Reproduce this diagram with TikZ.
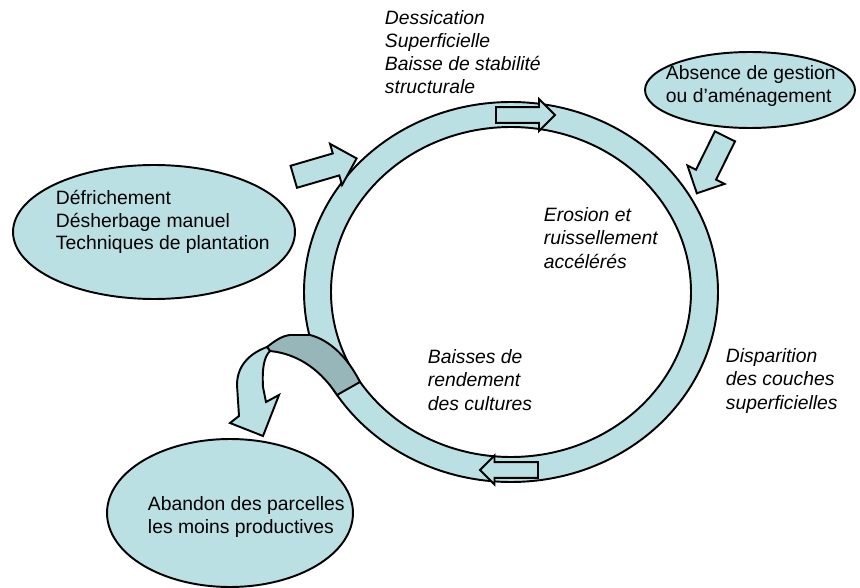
\documentclass[tikz,border=0pt]{standalone}
\usepackage{fontspec}
\setmainfont{Liberation Sans}
\usetikzlibrary{shapes.geometric,shapes.arrows}
\definecolor{bleuclair}{RGB}{187,224,227}
\definecolor{bleugris}{RGB}{150,182,185}
\begin{document}
\begin{tikzpicture}[x=0.02cm,y=-0.02cm,line width=1.1pt,
	bulle/.style={ellipse,draw,fill=bleuclair,inner sep=0pt},
	texte/.style={anchor=west,align=left,inner sep=0pt,font=\fontsize{11}{12.8}\selectfont},
	note/.style={anchor=west,align=left,inner sep=0pt,font=\fontsize{11}{13.2}\selectfont\itshape},
	fleche/.style={single arrow,draw,fill=bleuclair,inner xsep=0pt,single arrow tip angle=90}]
		\useasboundingbox (0,0) rectangle (860,588);
		% cycle
		\draw[fill=bleuclair,even odd rule] (511,292) ellipse [x radius=207,y radius=190]
		(511,292) ellipse [x radius=180,y radius=165];
		\draw[fill=bleugris] (267,347) .. controls (276,340) and (282,336) .. (290,335) -- (310,335)
		.. controls (330,340) and (348,358) .. (360,382) -- (337,395)
		.. controls (322,372) and (300,354) .. (270,351) -- cycle;
		\draw[fill=bleuclair] (267,347) .. controls (248,354) and (237,367) .. (237,385) -- (239,416)
		-- (230,423) -- (263,436) -- (279,395) -- (266,402) -- (263,387)
		.. controls (262,368) and (264,357) .. (270,351) -- cycle;
		% bulles
		\node[bulle,minimum width=5.64cm,minimum height=2.68cm] (defr) at (154,232) {};
		\node[texte] (defrtxt) at (55,222) {Défrichement\\Désherbage manuel\\Techniques de plantation};
		\node[bulle,minimum width=4.2cm,minimum height=1.52cm] (absence) at (750,90) {};
		\node[texte] (absencetxt) at (665,86) {Absence de gestion\\ou d’aménagement};
		\node[bulle,minimum width=4.92cm,minimum height=2.96cm] (abandon) at (230,513) {};
		\node[texte] (abandontxt) at (147,517) {Abandon des parcelles\\les moins productives};
		% fleches
		\node[fleche,inner ysep=0.21cm,single arrow head extend=0.2cm,minimum height=1.31cm,rotate=16.3] (flg) at (319.7,169.2) {};
		\node[fleche,inner ysep=0.14cm,single arrow head extend=0.16cm,minimum height=1.18cm] (flh) at (521.5,115) {};
		\node[fleche,inner ysep=0.14cm,single arrow head extend=0.13cm,minimum height=1.16cm,rotate=180] (flb) at (513,470) {};
		\node[fleche,inner ysep=0.205cm,single arrow head extend=0.19cm,minimum height=1.27cm,rotate=-116.3] (fld) at (713.4,159.8) {};
		% textes
		\node[note] (dessic) at (384,52) {Dessication\\Superficielle\\Baisse de stabilité\\structurale};
		\node[note] (erosion) at (543,238) {Erosion et\\ruissellement\\accélérés};
		\node[note] (baisses) at (427,380) {Baisses de\\rendement\\des cultures};
		\node[note] (dispar) at (725,381) {Disparition\\des couches\\superficielles};
		\end{tikzpicture}
\end{document}
